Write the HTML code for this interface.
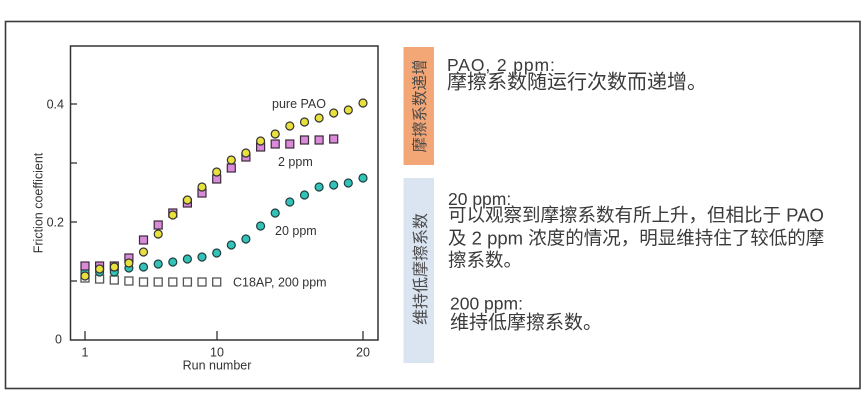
<!DOCTYPE html>
<html>
<head>
<meta charset="utf-8">
<style>
html,body{margin:0;padding:0;background:#fff;}
body{width:866px;height:401px;overflow:hidden;}
svg{display:block;}
.lat{font-family:"Liberation Sans","Noto Sans CJK SC",sans-serif;}
</style>
</head>
<body>
<svg width="866" height="401" viewBox="0 0 866 401" xmlns="http://www.w3.org/2000/svg">
  <rect x="0" y="0" width="866" height="401" fill="#fff"/>
  <!-- outer frame -->
  <rect x="5.5" y="21.5" width="854.5" height="367" fill="none" stroke="#3c3c3c" stroke-width="1.6"/>

  <!-- plot box -->
  <rect x="70.5" y="46" width="307.5" height="294" fill="none" stroke="#333" stroke-width="1.5"/>
  <!-- y ticks (inward) -->
  <g stroke="#333" stroke-width="1.3">
    <line x1="70.5" y1="104" x2="77" y2="104"/>
    <line x1="70.5" y1="163" x2="77" y2="163"/>
    <line x1="70.5" y1="222" x2="77" y2="222"/>
    <line x1="70.5" y1="281" x2="77" y2="281"/>
    <line x1="85" y1="340" x2="85" y2="331"/>
    <line x1="217" y1="340" x2="217" y2="331"/>
    <line x1="363" y1="340" x2="363" y2="331"/>
  </g>
  <g class="lat" font-size="12.5" fill="#333">
    <text x="64" y="108.5" text-anchor="end">0.4</text>
    <text x="64" y="226.5" text-anchor="end">0.2</text>
    <text x="62" y="343.5" text-anchor="end">0</text>
    <text x="85" y="356.5" text-anchor="middle">1</text>
    <text x="217" y="356.5" text-anchor="middle">10</text>
    <text x="363" y="356.5" text-anchor="middle">20</text>
    <text x="217" y="369.5" text-anchor="middle">Run number</text>
    <text transform="translate(42.5,203) rotate(-90)" text-anchor="middle">Friction coefficient</text>
    <text x="272" y="108">pure PAO</text>
    <text x="278" y="166">2 ppm</text>
    <text x="275" y="235">20 ppm</text>
    <text x="233" y="286.5">C18AP, 200 ppm</text>
  </g>

  <!-- C18AP 200 ppm: open gray squares -->
  <g fill="#fff" stroke="#555" stroke-width="1.3">
    <rect x="81" y="274" width="8" height="8"/>
    <rect x="95.6" y="275" width="8" height="8"/>
    <rect x="110.3" y="276" width="8" height="8"/>
    <rect x="124.9" y="277" width="8" height="8"/>
    <rect x="139.5" y="278" width="8" height="8"/>
    <rect x="154.2" y="278" width="8" height="8"/>
    <rect x="168.8" y="278" width="8" height="8"/>
    <rect x="183.4" y="278" width="8" height="8"/>
    <rect x="198" y="278" width="8" height="8"/>
    <rect x="212.7" y="278" width="8" height="8"/>
  </g>

  <!-- 20 ppm: teal circles -->
  <g fill="#33c2b8" stroke="#1f3f3f" stroke-width="1.2">
    <circle cx="85" cy="272" r="4"/>
    <circle cx="99.6" cy="272" r="4"/>
    <circle cx="114.3" cy="272" r="4"/>
    <circle cx="128.9" cy="268" r="4"/>
    <circle cx="143.5" cy="267" r="4"/>
    <circle cx="158.2" cy="264" r="4"/>
    <circle cx="172.8" cy="262" r="4"/>
    <circle cx="187.4" cy="259" r="4"/>
    <circle cx="202" cy="257" r="4"/>
    <circle cx="216.7" cy="253" r="4"/>
    <circle cx="231.3" cy="245" r="4"/>
    <circle cx="245.9" cy="239" r="4"/>
    <circle cx="260.6" cy="226" r="4"/>
    <circle cx="275.2" cy="213" r="4"/>
    <circle cx="289.8" cy="202" r="4"/>
    <circle cx="304.5" cy="195" r="4"/>
    <circle cx="319.1" cy="187" r="4"/>
    <circle cx="333.7" cy="185" r="4"/>
    <circle cx="348.3" cy="183" r="4"/>
    <circle cx="363" cy="178" r="4"/>
  </g>

  <!-- 2 ppm: pink squares -->
  <g fill="#d98ad9" stroke="#3a2a3a" stroke-width="1.2">
    <rect x="81" y="262" width="8" height="8"/>
    <rect x="95.6" y="262" width="8" height="8"/>
    <rect x="110.3" y="262" width="8" height="8"/>
    <rect x="124.9" y="254" width="8" height="8"/>
    <rect x="139.5" y="236" width="8" height="8"/>
    <rect x="154.2" y="221" width="8" height="8"/>
    <rect x="168.8" y="209" width="8" height="8"/>
    <rect x="183.4" y="199" width="8" height="8"/>
    <rect x="198" y="189" width="8" height="8"/>
    <rect x="212.7" y="175" width="8" height="8"/>
    <rect x="227.3" y="164" width="8" height="8"/>
    <rect x="241.9" y="153" width="8" height="8"/>
    <rect x="256.6" y="143" width="8" height="8"/>
    <rect x="271.2" y="140" width="8" height="8"/>
    <rect x="285.8" y="140" width="8" height="8"/>
    <rect x="300.5" y="136" width="8" height="8"/>
    <rect x="315.1" y="136" width="8" height="8"/>
    <rect x="329.7" y="135" width="8" height="8"/>
  </g>

  <!-- pure PAO: yellow circles -->
  <g fill="#e8e03c" stroke="#333" stroke-width="1.2">
    <circle cx="85" cy="276" r="4"/>
    <circle cx="99.6" cy="269" r="4"/>
    <circle cx="114.3" cy="267" r="4"/>
    <circle cx="128.9" cy="263" r="4"/>
    <circle cx="143.5" cy="252" r="4"/>
    <circle cx="158.2" cy="234" r="4"/>
    <circle cx="172.8" cy="215" r="4"/>
    <circle cx="187.4" cy="200" r="4"/>
    <circle cx="202" cy="187" r="4"/>
    <circle cx="216.7" cy="172" r="4"/>
    <circle cx="231.3" cy="160" r="4"/>
    <circle cx="245.9" cy="153" r="4"/>
    <circle cx="260.6" cy="141" r="4"/>
    <circle cx="275.2" cy="134" r="4"/>
    <circle cx="289.8" cy="126" r="4"/>
    <circle cx="304.5" cy="122" r="4"/>
    <circle cx="319.1" cy="118" r="4"/>
    <circle cx="333.7" cy="113" r="4"/>
    <circle cx="348.3" cy="110" r="4"/>
    <circle cx="363" cy="103" r="4"/>
  </g>

  <!-- side label boxes -->
  <rect x="403.5" y="47" width="30.5" height="118" fill="#f3a676"/>
  <rect x="403.5" y="178" width="30.5" height="185" fill="#dbe5f2"/>
  <g class="lat" fill="#4a4a4a">
    <text transform="translate(425,106) rotate(-90)" text-anchor="middle" font-size="15.5">摩擦系数递增</text>
    <text transform="translate(426,269) rotate(-90)" text-anchor="middle" font-size="16">维持低摩擦系数</text>
  </g>

  <!-- right text -->
  <g class="lat" fill="#3a3a3a">
    <text x="447" y="71" font-size="17.5" letter-spacing="0.9">PAO, 2 ppm:</text>
    <text x="447" y="88.6" font-size="20">摩擦系数随运行次数而递增。</text>

    <text x="448" y="205" font-size="17.5">20 ppm:</text>
    <text x="448" y="221.7" font-size="18.5">可以观察到摩擦系数有所上升，但相比于 PAO</text>
    <text x="448" y="244.5" font-size="18.5">及 2 ppm 浓度的情况，明显维持住了较低的摩</text>
    <text x="448" y="266.7" font-size="18.5">擦系数。</text>

    <text x="450" y="309.3" font-size="17.5">200 ppm:</text>
    <text x="450" y="328.5" font-size="19">维持低摩擦系数。</text>
  </g>
</svg>
</body>
</html>
